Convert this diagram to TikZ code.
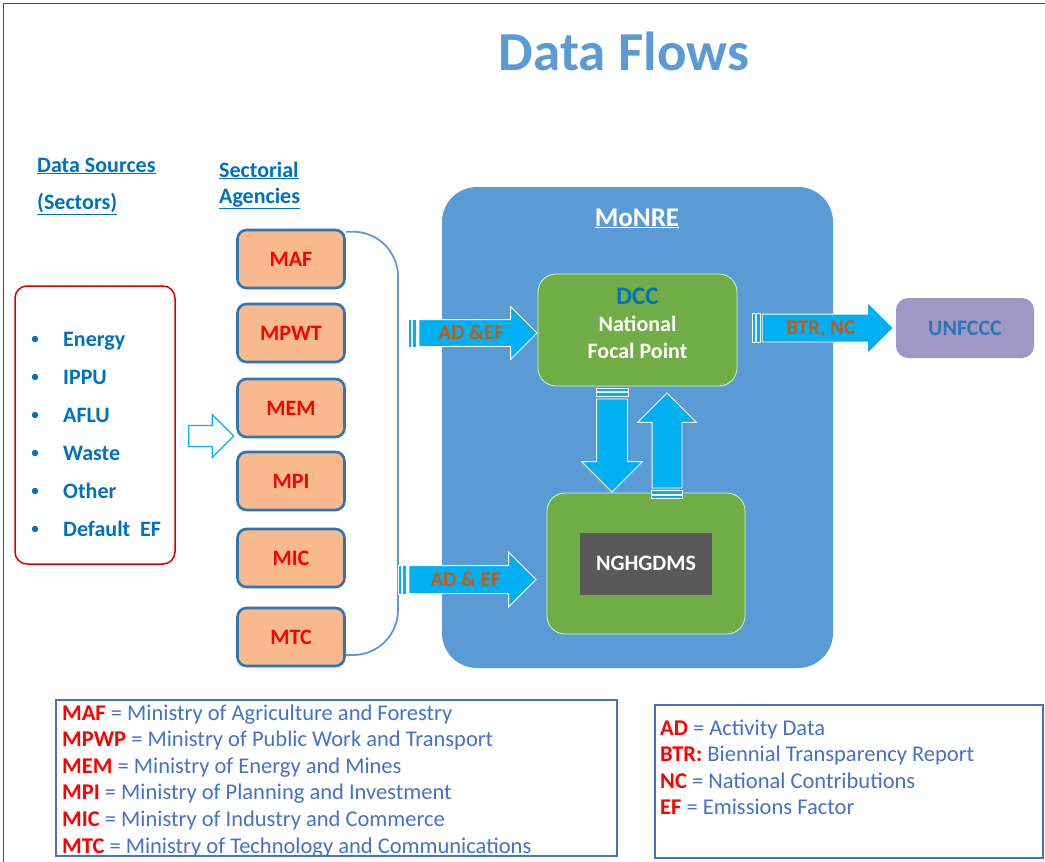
\documentclass[tikz,border=0pt]{standalone}
\usepackage{fontspec}
\setmainfont{Carlito}
\usetikzlibrary{shapes.arrows}
\definecolor{hdrblue}{RGB}{0,112,192}
\definecolor{monre}{RGB}{91,155,213}
\definecolor{dccgreen}{RGB}{112,173,71}
\definecolor{flowcyan}{RGB}{0,176,240}
\definecolor{agency}{RGB}{248,185,140}
\definecolor{agencyedge}{RGB}{46,117,182}
\definecolor{lbl}{RGB}{197,90,17}
\definecolor{unf}{RGB}{160,152,196}
\definecolor{legblue}{RGB}{68,114,196}
\newcommand{\fsz}[2]{\fontsize{#1}{#2}\selectfont}
\tikzstyle{frame} = [draw=black!70, line width=0.8pt]
\tikzstyle{heading} = [anchor=base west, inner xsep=0pt, text=hdrblue, font=\fsz{22}{26}\bfseries]
\tikzstyle{sector} = [anchor=base west, inner xsep=0pt, text=hdrblue, font=\fsz{22}{26}\bfseries]
\tikzstyle{agencybox} = [rectangle, rounded corners=9pt, minimum width=107pt,
    minimum height=58pt, draw=agencyedge, line width=2.6pt, fill=agency,
    text=red, font=\fsz{22}{26}\bfseries]
\tikzstyle{bracket} = [draw=monre, line width=1.8pt, rounded corners=45pt]
\tikzstyle{greenbox} = [rectangle, rounded corners=18pt, fill=dccgreen,
    draw=green!20!white, line width=0.8pt]
\tikzstyle{flow} = [single arrow, single arrow head extend=13pt, text height=19.5pt,
    text depth=6.5pt, inner sep=0pt, fill=flowcyan, draw=white, line width=0.8pt, text=lbl,
    font=\fsz{21}{25}\bfseries]
\tikzstyle{stripe} = [fill=flowcyan, draw=white, line width=0.6pt]
\tikzstyle{keytext} = [anchor=base west, inner xsep=0pt, text=legblue, font=\fsz{22.5}{26}]
\tikzstyle{keybox} = [rectangle, draw=legblue, line width=1.2pt]

\begin{document}
\begin{tikzpicture}[x=1pt, y=-1pt]
\useasboundingbox (0,0) rectangle (1045,862);
% Page frame
\draw[frame] (3,862) -- (3,3) -- (1045,3);
% Title
\node[anchor=base, text=monre, font=\fsz{55}{60}\bfseries] (title) at (624,70) {Data Flows};
% Headings
\node[heading] (src) at (37,172) {\underline{Data Sources}};
\node[heading] (srcsub) at (37,209) {\underline{(Sectors)}};
\node[heading] (sect) at (219,177) {\underline{Sectorial}};
\node[heading] (sectsub) at (219,203) {\underline{Agencies}};
% Data sources
\node[rectangle, rounded corners=12pt, draw=red!85!black, line width=1.5pt,
    minimum width=160pt, minimum height=278pt] (sources) at (95,425) {};
\foreach \nm [count=\i] in {Energy, IPPU, AFLU, Waste, Other, Default~ EF} {
    \fill[hdrblue] (35,{339+38*(\i-1)}) circle (3.2pt);
    \node[sector] (sec\i) at (63,{346+38*(\i-1)}) {\nm};
}
\node[single arrow, draw=flowcyan, fill=white, line width=1.2pt, minimum height=45pt,
    text height=20pt, text depth=0pt, single arrow head extend=11pt, inner sep=0pt] (feed) at (206,436) {};
% Agencies
\foreach \ag/\y in {MAF/259, MPWT/333, MEM/408, MPI/481, MIC/558, MTC/637}
    \node[agencybox] (\ag) at (291,\y) {\ag};
\coordinate (bend) at (398,440);
\draw[bracket] ([yshift=-3pt]MAF.north east) -| (bend) |- ([yshift=-18pt]MTC.east);
% MoNRE
\node[rectangle, rounded corners=35pt, fill=monre, minimum width=391pt,
    minimum height=481pt] (monre) at (637.5,427.5) {};
\node[anchor=base, text=white, font=\fsz{27}{30}\bfseries] (monrelbl) at (637,226) {\underline{MoNRE}};
\node[greenbox, minimum width=199pt, minimum height=112pt] (dcc) at (637.5,330) {};
\node[align=center, text=white, font=\fsz{22}{27}\bfseries] (dcclbl) at (637.5,323)
    {{\color{hdrblue}\fsz{25}{27}DCC}\\National\\Focal Point};
\node[greenbox, minimum width=198pt, minimum height=141pt] (ngh) at (646,563.5) {};
\node[rectangle, fill=black!65, minimum width=132pt, minimum height=62pt, text=white,
    font=\fsz{22}{26}\bfseries] (nghgdms) at (ngh) {NGHGDMS};
\node[rectangle, rounded corners=12pt, fill=unf, minimum width=138pt, minimum height=60pt,
    text=agencyedge, font=\fsz{22}{26}\bfseries] (unfccc) at (965,328) {UNFCCC};
% Flows
\node[flow, anchor=tip, minimum height=118pt] (toDCC) at ([yshift=-3pt]dcc.west) {AD \&EF};
\node[flow, anchor=tip, minimum height=127pt, text height=20pt, text depth=7pt,
    single arrow head extend=13.5pt] (toNGH) at ([xshift=-10pt,yshift=-16pt]ngh.west) {AD \& EF};
\node[flow, anchor=tip, minimum height=131pt, text height=20pt, text depth=7pt,
    single arrow head extend=11.5pt] (toUN) at ([xshift=-2pt]unfccc.west) {BTR, NC};
\node[flow, anchor=tip, rotate=-90, minimum height=93pt, text height=30pt, text depth=0pt,
    single arrow head extend=15pt] (down) at ([xshift=-34pt]ngh.north) {};
\node[flow, anchor=tip, rotate=90, minimum height=95pt, text height=29pt, text depth=0pt,
    single arrow head extend=14.5pt] (up) at ([xshift=29.5pt,yshift=-6pt]dcc.south) {};
\foreach \arr in {toDCC, toNGH, toUN} {
    \draw[stripe] ([xshift=-2pt]\arr.before tail) rectangle ([xshift=-6pt]\arr.after tail);
    \draw[stripe] ([xshift=-7pt]\arr.before tail) rectangle ([xshift=-10pt]\arr.after tail);
}
\draw[stripe] ([yshift=2pt]down.before tail) rectangle ([yshift=6pt]down.after tail);
\draw[stripe] ([yshift=7pt]down.before tail) rectangle ([yshift=10pt]down.after tail);
\draw[stripe] ([yshift=-2pt]up.before tail) rectangle ([yshift=-6pt]up.after tail);
\draw[stripe] ([yshift=-7pt]up.before tail) rectangle ([yshift=-10pt]up.after tail);
% Keys
\node[keybox, minimum width=561pt, minimum height=156pt] (agkey) at (336.5,778) {};
\foreach \ab/\full [count=\i] in {MAF/Ministry of Agriculture and Forestry,
    MPWP/Ministry of Public Work and Transport, MEM/Ministry of Energy and Mines,
    MPI/Ministry of Planning and Investment, MIC/Ministry of Industry and Commerce,
    MTC/Ministry of Technology and Communications}
    \node[keytext] (agkey\i) at (62,{720+26.6*(\i-1)}) {\textcolor{red}{\textbf{\ab}} = \full};
\node[keybox, minimum width=388pt, minimum height=153pt] (abkey) at (849,781.5) {};
\foreach \ab/\full [count=\i] in {AD/= Activity Data, BTR:/Biennial Transparency Report,
    NC/= National Contributions, EF/= Emissions Factor}
    \node[keytext] (abkey\i) at (660,{735+26.6*(\i-1)}) {\textcolor{red}{\textbf{\ab}} \full};
\end{tikzpicture}
\end{document}
